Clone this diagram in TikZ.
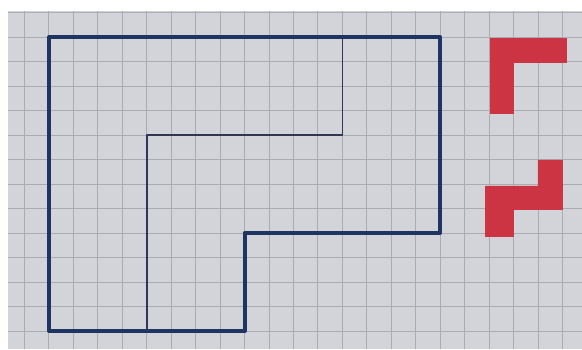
\documentclass[tikz,border=0pt]{standalone}
\usepackage{tikz}

\definecolor{paper}{RGB}{210,212,218}
\definecolor{gridgray}{RGB}{170,171,179}
\definecolor{penblue}{RGB}{30,52,98}
\definecolor{penthin}{RGB}{50,54,80}
\definecolor{marker}{RGB}{204,52,68}

\tikzset{
  gridline/.style={draw=gridgray,line width=1.3pt},
  outline/.style={draw=penblue,line width=5.5pt,line join=round,line cap=round},
  thinline/.style={draw=penthin,line width=2.4pt,line join=round},
  redpiece/.style={fill=marker,draw=marker,line width=1pt,line join=round}
}

\begin{document}
\begin{tikzpicture}[x=1.2225cm,y=-1.225cm]
  % 画像の大きさ（余白込み）
  \useasboundingbox (-1.002,-1.510) rectangle (22.80,12.735);
  \fill[white] (-1.002,-1.510) rectangle (22.80,12.735);

  % 方眼紙
  \fill[paper] (-0.675,-1.061) rectangle (22.80,12.735);
  \foreach \i in {0,...,22}
    \draw[gridline] (\i,-1.061) -- (\i,12.735);
  \foreach \j in {-1,...,12}
    \draw[gridline] (-0.675,\j) -- (22.80,\j);

  % 外側の図形（太い青線）
  \draw[outline] (1,0) -- (17,0) -- (17,8) -- (9,8) -- (9,12) -- (1,12) -- cycle;

  % 内側の分割線
  \draw[thinline] (5,12) -- (5,4) -- (13,4) -- (13,0);

  % 赤いピース（上）
  \filldraw[redpiece] (19.05,0.05) -- (22.15,0.05) -- (22.15,1.05) -- (20,1.05)
    -- (20,3.1) -- (19.05,3.1) -- cycle;

  % 赤いピース（下）
  \filldraw[redpiece] (21,5.02) -- (22,5.02) -- (22,7.05) -- (20,7.05)
    -- (20,8.15) -- (18.85,8.15) -- (18.85,6.08) -- (21,6.08) -- cycle;
\end{tikzpicture}
\end{document}
